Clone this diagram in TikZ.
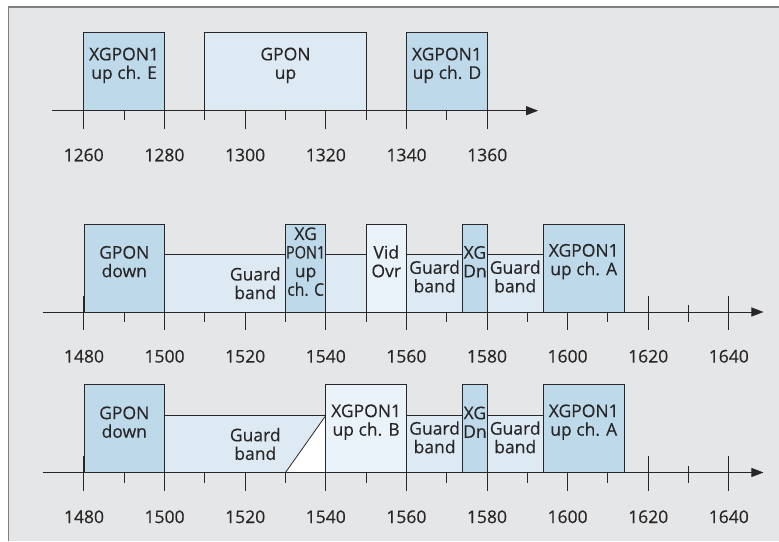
\documentclass[tikz,border=0pt]{standalone}
\usepackage{fontspec}
\setmainfont{Open Sans}
\newfontfamily\bandfont{Open Sans}[FakeBold=0.35]
\usepackage{xcolor}
\usepackage{tikz}
\usetikzlibrary{arrows.meta, positioning, fit}
\definecolor{bg}{RGB}{229,230,231}
\definecolor{frm}{RGB}{128,128,128}
\definecolor{ink}{RGB}{40,38,38}
\definecolor{chn}{RGB}{189,217,234}
\definecolor{grd}{RGB}{221,234,243}
\definecolor{pal}{RGB}{235,243,250}

\begin{document}
\begin{tikzpicture}[
    x=1pt, y=1pt,
    band/.style={rectangle, draw=ink, fill=#1, line width=0.8pt, inner sep=0pt,
      align=center, text=ink, font=\bandfont\fontsize{17.5pt}{18.6pt}\selectfont},
    lbl/.style={align=center, text=ink, font=\bandfont\fontsize{17.5pt}{18.6pt}\selectfont},
    nm/.style={text=ink, font=\bandfont\fontsize{17.5pt}{18.6pt}\selectfont},
    axis/.style={-{Triangle[length=12pt, width=9pt]}, line width=0.9pt, ink},
    tickmaj/.style={line width=1pt, ink},
    tickmin/.style={line width=1pt, ink}
  ]
  \useasboundingbox (0,0) rectangle (779,541);
  \fill[bg] (8.3,0) rectangle (779,533.7);
  \draw[frm, line width=2pt] (8.3,533.7) -- (779,533.7);
  \draw[frm, line width=1.2pt] (8.3,534.7) -- (8.3,0);

  % upstream band
  \begin{scope}[shift={(-5001.66pt,430.3pt)}, x=4.036pt]
    \foreach \l in {1260,1280,...,1360} \draw[tickmaj] (\l,16) -- (\l,-18.3);
    \foreach \l in {1270,1290,...,1350} \draw[tickmin] (\l,7) -- (\l,-9.3);
    \node[band=chn, fit={(1260,0) (1280,78)}] (upE) {XGPON1\\up ch. E};
    \node[band=grd, fit={(1290,0) (1330,78)}] (gUp) {GPON\\up};
    \node[band=chn, fit={(1340,0) (1360,78)}] (upD) {XGPON1\\up ch. D};
    \coordinate (tA) at (1252.2,0);
    \coordinate (tB) at (1372.6,0);
    \draw[axis] (tA) -- (tB);
    \foreach \l in {1260,1280,...,1360} \node[nm] (t\l) at (\l,-44.3) {\l};
  \end{scope}

  % downstream band, video overlay
  \begin{scope}[shift={(-5880.4pt,229pt)}, x=4.03pt]
    \foreach \l in {1480,1500,...,1640} \draw[tickmaj] (\l,16) -- (\l,-18.3);
    \foreach \l in {1490,1510,...,1630} \draw[tickmin] (\l,7) -- (\l,-10);
    \node[band=chn, fit={(1480,0) (1500,88)}] (gDown) {GPON\\down};
    \node[band=grd, fit={(1500,0) (1550,57.7)}] (gb) {};
    \node[lbl] (gbTxt) at (1522.5,28.8) {Guard\\band};
    \node[band=chn, fit={(1530,0) (1540,88)}] (upC) {XG\\\scalebox{0.83}[1]{PON1}\\up\\\scalebox{0.9}[1]{ch. C}};
    \node[band=pal, fit={(1550,0) (1560,88)}] (vid) {Vid\\Ovr};
    \node[band=grd, fit={(1560,0) (1574,57.7)}] (gbL) {Guard\\band};
    \node[band=chn, fit={(1574,0) (1580,88)}] (xgDn) {XG\\Dn};
    \node[band=grd, fit={(1580,0) (1594,57.7)}] (gbR) {Guard\\band};
    \node[band=chn, fit={(1594,0) (1614,88)}] (upA) {XGPON1\\up ch. A};
    \coordinate (mA) at (1469.75,0);
    \coordinate (mB) at (1648.6,0);
    \draw[axis] (mA) -- (mB);
    \foreach \l in {1480,1500,...,1640} \node[nm] (m\l) at (\l,-44.3) {\l};
  \end{scope}

  % downstream band, no video
  \begin{scope}[shift={(-5880.4pt,68.5pt)}, x=4.03pt]
    \foreach \l in {1480,1500,...,1640} \draw[tickmaj] (\l,16) -- (\l,-18.3);
    \foreach \l in {1490,1510,...,1630} \draw[tickmin] (\l,7) -- (\l,-10);
    \node[band=chn, fit={(1480,0) (1500,88)}] (bDown) {GPON\\down};
    \node[band=grd, fit={(1500,0) (1540,57)}] (bgb) {};
    \filldraw[white, draw=ink, line width=0.8pt] (1530,0) -- (1540,57) -- (1540,0) -- cycle;
    \node[lbl] (bgbTxt) at (1522.5,28.5) {Guard\\band};
    \node[band=pal, fit={(1540,0) (1560,88)}] (upB) {XGPON1\\up ch. B};
    \node[band=grd, fit={(1560,0) (1574,57)}] (bgbL) {Guard\\band};
    \node[band=chn, fit={(1574,0) (1580,88)}] (bxgDn) {XG\\Dn};
    \node[band=grd, fit={(1580,0) (1594,57)}] (bgbR) {Guard\\band};
    \node[band=chn, fit={(1594,0) (1614,88)}] (bupA) {XGPON1\\up ch. A};
    \coordinate (bA) at (1469.75,0);
    \coordinate (bB) at (1648.6,0);
    \draw[axis] (bA) -- (bB);
    \foreach \l in {1480,1500,...,1640} \node[nm] (b\l) at (\l,-44.3) {\l};
  \end{scope}
\end{tikzpicture}
\end{document}
